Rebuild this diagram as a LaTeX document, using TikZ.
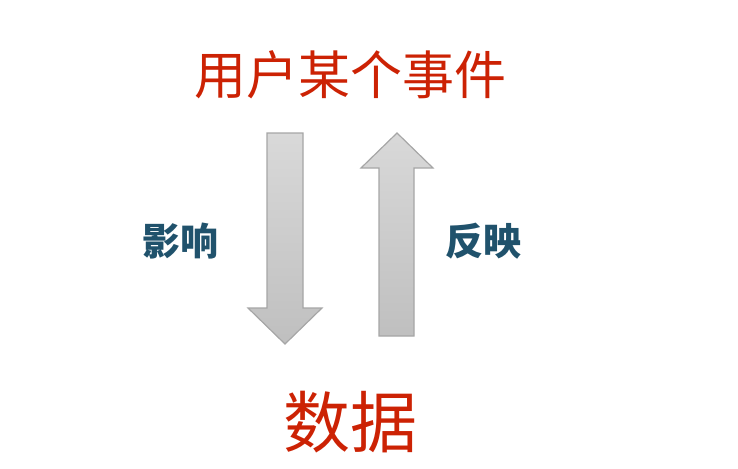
\documentclass[tikz,border=0pt]{standalone}
\usepackage{fontspec}
\newfontfamily\cjk{Noto Sans CJK SC}
\usetikzlibrary{positioning}

\definecolor{evred}{RGB}{204,34,4}
\definecolor{lblblue}{RGB}{32,82,108}
\definecolor{arrline}{RGB}{166,166,166}

\begin{document}
\begin{tikzpicture}[
  x=1pt, y=-1pt,
  title/.style={text=evred, font=\cjk\fontsize{52}{56}\selectfont, inner sep=0pt},
  data/.style={text=evred, font=\cjk\fontsize{67}{70}\selectfont, inner sep=0pt},
  lbl/.style={text=lblblue, font=\cjk\bfseries\fontsize{38}{40}\selectfont, inner sep=0pt},
  bigarr/.style={draw=arrline, line width=1.2pt, line join=miter, top color=black!15, bottom color=black!25}
]
  \useasboundingbox (0,0) rectangle (738,468);

  % ----- texts -----
  \node[title] (event) at (350,75) {用户某个事件};
  \node[data]  (data)  at (350,422) {数据};
  \node[lbl]   (affect)  at (180,241) {影响};
  \node[lbl]   (reflect) at (483,241) {反映};

  % ----- down arrow (affect) -----
  \draw[bigarr] (267,133) -- (303,133) -- (303,308) -- (322,308) -- (285,344)
    -- (248,308) -- (267,308) -- cycle;

  % ----- up arrow (reflect) -----
  \draw[bigarr] (397,133) -- (433,168) -- (414,168) -- (414,336) -- (379,336)
    -- (379,168) -- (361,168) -- cycle;
\end{tikzpicture}
\end{document}
